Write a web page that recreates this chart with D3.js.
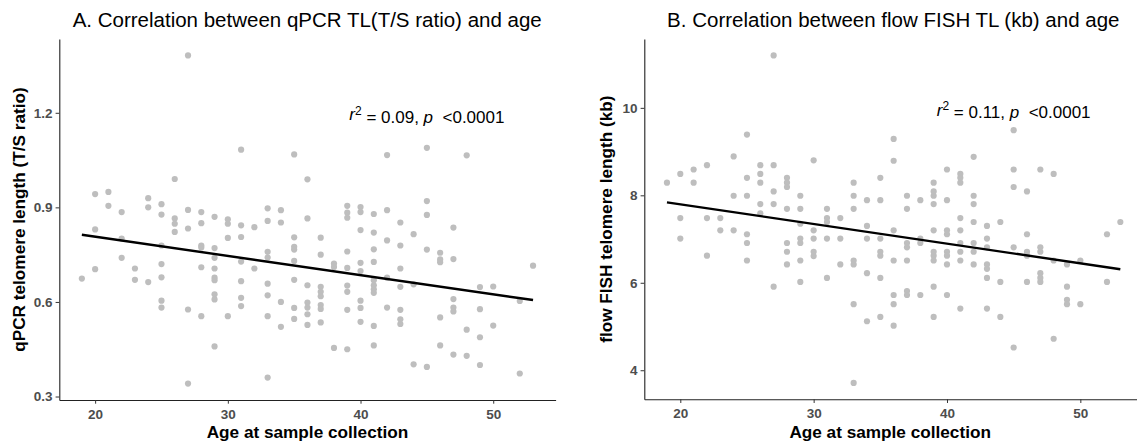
<!DOCTYPE html>
<html>
<head>
<meta charset="utf-8">
<script src="https://cdn.jsdelivr.net/npm/d3@7"></script>
<style>
  body { margin: 0; background: white; }
  text { font-family: "Liberation Sans", Arial, sans-serif; }
  .tick text { font-weight: bold; fill: #4d4d4d; }
  .tick line { stroke: #333; }
  .domain { stroke: #222; }
</style>
</head>
<body>
<div id="chart"></div>
<script>
// ages present in the cohort (no 51 year olds)
var sampleAges = [19, 20, 21, 22, 23, 24, 25, 26, 27, 28, 29, 30, 31, 32, 33, 34, 35, 36,
                  37, 38, 39, 40, 41, 42, 43, 44, 45, 46, 47, 48, 49, 50, 52, 53];

// qPCR T/S ratio, one list per age above
var qpcrTL = [
  [0.674],
  [0.942, 0.830, 0.704],
  [0.949, 0.905],
  [0.885, 0.801, 0.740],
  [0.706, 0.670],
  [0.929, 0.900, 0.663],
  [0.910, 0.877, 0.779, 0.720, 0.678, 0.604, 0.582],
  [0.990, 0.865, 0.848, 0.822],
  [1.382, 0.892, 0.833, 0.576, 0.341],
  [0.885, 0.850, 0.779, 0.773, 0.710, 0.555],
  [0.870, 0.771, 0.740, 0.706, 0.677, 0.669, 0.624, 0.608, 0.459],
  [0.862, 0.848, 0.803, 0.555],
  [1.083, 0.843, 0.806, 0.728, 0.666, 0.613, 0.587],
  [0.837, 0.706],
  [0.897, 0.857, 0.759, 0.741, 0.658, 0.621, 0.555, 0.360],
  [0.891, 0.852, 0.600, 0.521],
  [1.068, 0.805, 0.775, 0.766, 0.730, 0.670, 0.581, 0.546],
  [0.989, 0.865, 0.653, 0.598, 0.582, 0.561, 0.527],
  [0.804, 0.750, 0.648, 0.632, 0.618, 0.590, 0.578, 0.535],
  [0.722, 0.711, 0.454],
  [0.905, 0.883, 0.867, 0.760, 0.708, 0.652, 0.632, 0.575, 0.450],
  [0.901, 0.885, 0.828, 0.724, 0.698, 0.604, 0.581, 0.537],
  [0.879, 0.820, 0.767, 0.727, 0.669, 0.653, 0.640, 0.629, 0.524, 0.462],
  [1.066, 0.891, 0.795, 0.677, 0.582],
  [0.852, 0.779, 0.706, 0.648, 0.575, 0.545, 0.530],
  [0.815, 0.656, 0.402],
  [1.089, 0.920, 0.876, 0.766, 0.394],
  [0.756, 0.735, 0.726, 0.551, 0.462],
  [0.836, 0.736, 0.609, 0.582, 0.570, 0.433],
  [1.065, 0.512, 0.429],
  [0.647, 0.577, 0.488, 0.400],
  [0.649, 0.525],
  [0.603, 0.373],
  [0.715]
];

// flow FISH TL in kb, one list per age above
var fishTL = [
  [8.29],
  [8.49, 7.48, 7.01],
  [8.59, 8.29],
  [8.69, 7.48, 6.62],
  [7.48, 7.20],
  [8.89, 7.99, 7.20],
  [9.39, 8.40, 7.99, 7.11, 6.91, 6.51],
  [8.69, 8.49, 8.29, 7.80, 7.59],
  [11.20, 8.69, 8.09, 7.80, 5.91],
  [8.40, 8.29, 8.19, 7.69, 6.91, 6.71, 6.42],
  [7.99, 7.69, 7.35, 7.01, 6.91, 6.51, 6.02],
  [8.80, 7.20, 7.01, 6.71, 6.61],
  [7.69, 7.48, 7.39, 7.01, 6.11],
  [7.48, 7.01, 6.42],
  [8.29, 7.99, 7.69, 6.51, 6.42, 5.51, 3.71],
  [7.89, 7.30, 7.01, 6.22, 5.12],
  [8.40, 7.89, 7.01, 6.71, 6.62, 6.11, 5.22],
  [9.29, 8.79, 7.20, 6.51, 5.72, 5.51, 5.02],
  [7.99, 7.69, 6.91, 6.81, 6.51, 5.81, 5.72],
  [7.89, 7.01, 6.91, 5.72],
  [8.29, 8.09, 7.99, 7.80, 7.20, 6.71, 6.62, 6.51, 5.91, 5.22],
  [8.59, 7.89, 7.20, 7.11, 6.71, 6.62, 6.42, 5.72],
  [8.49, 8.40, 8.29, 7.48, 7.20, 6.91, 6.71, 6.51, 5.41],
  [8.88, 7.99, 7.80, 7.39, 6.91, 6.71, 6.42],
  [7.30, 7.01, 6.81, 6.42, 6.32, 6.11, 5.41],
  [7.39, 6.02, 5.22],
  [9.49, 8.59, 8.19, 6.81, 4.52],
  [8.09, 7.11, 6.71, 6.62, 6.02],
  [8.59, 6.81, 6.71, 6.22, 6.11, 6.02],
  [8.49, 6.51, 4.72],
  [6.42, 5.91, 5.61, 5.51],
  [6.51, 5.51],
  [7.11, 6.02],
  [7.39]
];

// fitted line ends (at first and last age)
var fitAges = [19, 53];
var qpcrFit = [0.813, 0.606];
var fishFit = [7.84, 6.31];

var ageTicks = [20, 30, 40, 50];
var qpcrTicks = [0.3, 0.6, 0.9, 1.2];
var fishTicks = [4, 6, 8, 10];

var svg = d3.select("#chart").append("svg")
    .attr("width", 1137)
    .attr("height", 443)
    .style("background-color", "white");

function flatten(values) {
    var pts = [];
    sampleAges.forEach(function(age, i) {
        values[i].forEach(function(v) { pts.push({age: age, tl: v}); });
    });
    return pts;
}

// ggplot style 5% padding around the data
function padded(ext) {
    var pad = (ext[1] - ext[0]) * 0.05;
    return [ext[0] - pad, ext[1] + pad];
}

function drawPanel(opt) {
    var pts = flatten(opt.values);
    var x = d3.scaleLinear().domain(padded(d3.extent(pts, d => d.age))).range(opt.xRange);
    var y = d3.scaleLinear().domain(padded(d3.extent(pts, d => d.tl))).range(opt.yRange);

    var g = svg.append("g");

    g.selectAll("circle")
        .data(pts)
        .enter()
        .append("circle")
        .attr("cx", d => x(d.age))
        .attr("cy", d => y(d.tl))
        .attr("r", 3.1)
        .attr("fill", "#bebebe");

    var line = d3.line().x(d => x(d[0])).y(d => y(d[1]));
    g.append("path")
        .datum(d3.zip(fitAges, opt.fit))
        .attr("d", line)
        .attr("fill", "none")
        .attr("stroke", "black")
        .attr("stroke-width", 2.4);

    var xAxis = g.append("g")
        .attr("transform", "translate(0," + opt.yRange[0] + ")")
        .call(d3.axisBottom(x).tickValues(ageTicks).tickSize(3.7).tickSizeOuter(0).tickPadding(5.3));
    xAxis.selectAll("text").style("font-size", "13.5px");

    var yAxis = g.append("g")
        .attr("transform", "translate(" + opt.xRange[0] + ",0)")
        .call(d3.axisLeft(y).tickValues(opt.yTicks).tickFormat(opt.fmt).tickSize(3.7).tickSizeOuter(0).tickPadding(3));
    yAxis.selectAll("text").style("font-size", "13.5px");
    g.selectAll(".domain").attr("stroke-width", 1.1);

    // title
    g.append("text")
        .attr("x", opt.titleX)
        .attr("y", 27.3)
        .attr("text-anchor", "middle")
        .style("font-size", "20.5px")
        .text(opt.title);

    // axis titles
    g.append("text")
        .attr("x", (opt.xRange[0] + Math.min(opt.xRange[1], 1137 - 7)) / 2 + opt.xTitleShift)
        .attr("y", 438)
        .attr("text-anchor", "middle")
        .style("font-size", "17.2px")
        .style("font-weight", "bold")
        .text("Age at sample collection");

    g.append("text")
        .attr("transform", "translate(" + opt.yTitleX + "," + (opt.yRange[0] + opt.yRange[1]) / 2 + ") rotate(-90)")
        .attr("text-anchor", "middle")
        .style("font-size", "17.2px")
        .style("font-weight", "bold")
        .text(opt.yLabel);

    // r squared annotation
    var note = g.append("text")
        .attr("x", x(45))
        .attr("y", y(opt.noteY))
        .attr("dy", "0.45em")
        .attr("text-anchor", "middle")
        .style("font-size", "17px")
        .style("white-space", "pre");
    note.append("tspan").style("font-style", "italic").text("r");
    note.append("tspan").attr("dy", "-0.45em").style("font-size", "12px").text("2");
    note.append("tspan").attr("dy", "0.45em").text(" = " + opt.r2 + ", ");
    note.append("tspan").style("font-style", "italic").text("p");
    note.append("tspan").text("  <0.0001");
}

drawPanel({
    values: qpcrTL,
    fit: qpcrFit,
    xRange: [59.3, 555.6],
    yRange: [400, 39],
    yTicks: qpcrTicks,
    fmt: d3.format(".1f"),
    title: "A. Correlation between qPCR TL(T/S ratio) and age",
    titleX: 307.2,
    yLabel: "qPCR telomere length (T/S ratio)",
    yTitleX: 25,
    xTitleShift: 0,
    noteY: 1.2,
    r2: "0.09"
});

drawPanel({
    values: fishTL,
    fit: fishFit,
    xRange: [644.3, 1143],
    yRange: [399.3, 39],
    yTicks: fishTicks,
    fmt: d3.format("d"),
    title: "B. Correlation between flow FISH TL (kb) and age",
    titleX: 893.3,
    yLabel: "flow FISH telomere length (kb)",
    yTitleX: 612,
    xTitleShift: 3,
    noteY: 10,
    r2: "0.11"
});
</script>
</body>
</html>
